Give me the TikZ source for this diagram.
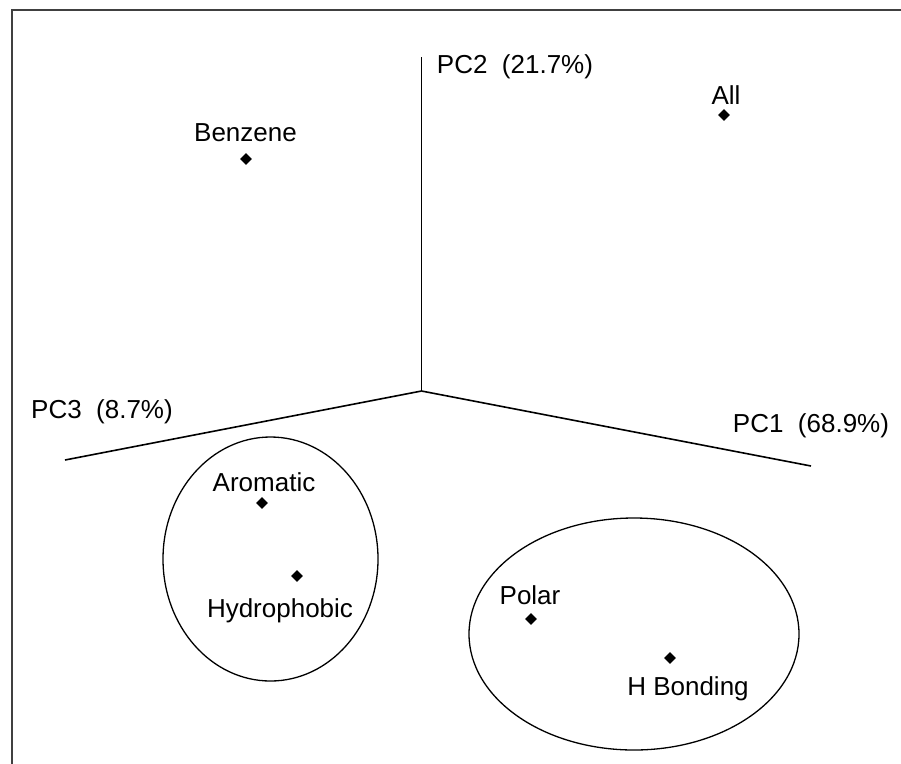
\documentclass[tikz,border=0pt]{standalone}
\usepackage{fontspec}
\setmainfont{Liberation Sans}
\usetikzlibrary{shapes.geometric}
\begin{document}
\begin{tikzpicture}[x=1pt,y=-1pt,
  lbl/.style={anchor=base,inner sep=0pt,font=\fontsize{26}{31}\selectfont},
  pt/.style={diamond,fill=black,draw=none,minimum size=12pt,inner sep=0pt},
  axis/.style={draw=black,line width=1.6pt},
  grp/.style={draw=black,line width=1.3pt},
  frame/.style={draw=black!75,line width=2pt}]
\fill[white] (0,0) rectangle (901,763);
\useasboundingbox (0,0) rectangle (901,763);
% frame (only left and top visible)
\coordinate (fbl) at (11.5,764);
\coordinate (ftl) at (11.5,10);
\coordinate (ftr) at (902,10);
\draw[frame] (fbl) -- (ftl) -- (ftr);
% axes
\coordinate (O) at (421.5,391);
\coordinate (pc2) at (421.5,57);
\coordinate (pc3) at (65,460);
\coordinate (pc1) at (811,466);
\draw[axis] (O) -- (pc2);
\draw[axis] (O) -- (pc3);
\draw[axis] (O) -- (pc1);
\node[lbl] (tpc2) at (515,73) {PC2\ \ (21.7\%)};
\node[lbl] (tpc3) at (102,418) {PC3\ \ (8.7\%)};
\node[lbl] (tpc1) at (811,432) {PC1\ \ (68.9\%)};
% group ellipses
\coordinate (e1) at (270.5,559);
\coordinate (e2) at (634,634);
\draw[grp] (e1) ellipse [x radius=107.5, y radius=122];
\draw[grp] (e2) ellipse [x radius=165, y radius=116];
% points
\node[pt] (benz) at (246,159) {};
\node[lbl] (tbenz) at (245.5,141) {Benzene};
\node[pt] (all) at (724,115) {};
\node[lbl] (tall) at (726,104) {All};
\node[pt] (arom) at (262,503) {};
\node[lbl] (tarom) at (264,491) {Aromatic};
\node[pt] (hydro) at (297,576) {};
\node[lbl] (thydro) at (280,617) {Hydrophobic};
\node[pt] (polar) at (531,619) {};
\node[lbl] (tpolar) at (530,604) {Polar};
\node[pt] (hb) at (670,658) {};
\node[lbl] (thb) at (688,695) {H Bonding};
\end{tikzpicture}
\end{document}
